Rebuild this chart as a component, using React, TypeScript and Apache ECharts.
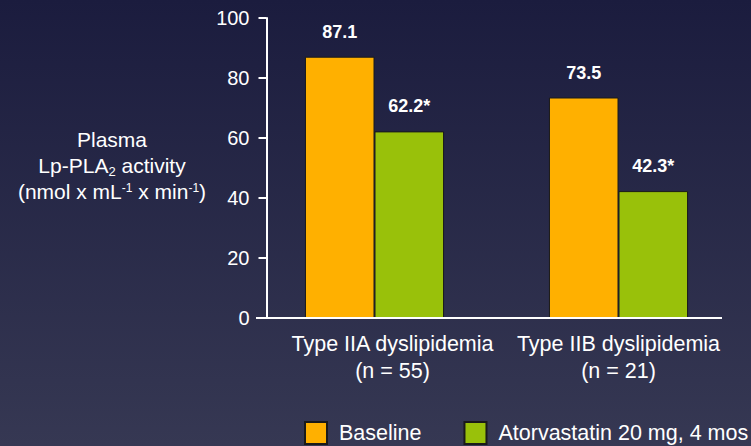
import React, { useEffect, useRef } from "react";
import * as echarts from "echarts";

const categories = ["Type IIA dyslipidemia\n(n = 55)", "Type IIB dyslipidemia\n(n = 21)"];
const baselineValues = [87.1, 73.5];
const atorvaValues = [62.2, 42.3];
const seriesNames = ["Baseline", "Atorvastatin 20 mg, 4 mos"];
const significanceMarks = ["", "*"];
const yTicks = { min: 0, max: 100, interval: 20 };

const FONT = "'Liberation Sans', Arial, Helvetica, sans-serif";

export default function App() {
  const ref = useRef<HTMLDivElement>(null);
  useEffect(() => {
    if (!ref.current) return;
    const chart = echarts.init(ref.current, undefined, { renderer: "svg" });
    const option: any = {
      animation: false,
      backgroundColor: {
        type: "linear",
        x: 0, y: 0, x2: 0, y2: 1,
        colorStops: [
          { offset: 0, color: "#1b1c3e" },
          { offset: 1, color: "#363853" },
        ],
      },
      textStyle: { fontFamily: FONT },
      grid: { left: 252.5, right: 10.5, top: 18, bottom: 128, containLabel: false },
      legend: {
        left: 304,
        top: 421,
        padding: 0,
        itemWidth: 22,
        itemHeight: 22,
        itemGap: 42,
        icon: "rect",
        data: seriesNames,
        textStyle: { color: "#ffffff", fontSize: 21.5, fontFamily: FONT, padding: [0, 0, 0, 7] },
      },
      xAxis: {
        type: "category",
        data: categories,
        axisLine: { show: false },
        axisTick: { show: false },
        axisLabel: {
          interval: 0,
          hideOverlap: false,
          color: "#ffffff",
          fontSize: 21.5,
          fontFamily: FONT,
          lineHeight: 27,
          margin: 12,
          formatter: (v: string, i: number) => {
            const lines = v.split("\n");
            const key = i === 0 ? "a" : "b";
            return lines.map((l) => `{${key}|${l}}`).join("\n");
          },
          rich: {
            a: { color: "#ffffff", fontSize: 21.5, fontFamily: FONT, lineHeight: 27, padding: [0, 0, 0, 36] },
            b: { color: "#ffffff", fontSize: 21.5, fontFamily: FONT, lineHeight: 27 },
          },
        },
      },
      yAxis: {
        type: "value",
        min: yTicks.min,
        max: yTicks.max,
        interval: yTicks.interval,
        offset: -14,
        splitLine: { show: false },
        axisLine: { show: true, lineStyle: { color: "#ffffff", width: 2 } },
        axisTick: { show: true, length: 8, lineStyle: { color: "#ffffff", width: 2 } },
        axisLabel: { color: "#ffffff", fontSize: 20, fontFamily: FONT, margin: 17 },
      },
      series: [
        {
          name: seriesNames[0],
          type: "bar",
          data: baselineValues,
          barGap: "0%",
          barCategoryGap: "43%",
          itemStyle: { color: "#ffb000", borderColor: "#1a1a1a", borderWidth: 1 },
          label: {
            show: true,
            position: "top",
            distance: 16,
            color: "#ffffff",
            fontSize: 18,
            fontWeight: "bold",
            fontFamily: FONT,
            formatter: (p: any) => `${p.value}${significanceMarks[0]}`,
          },
        },
        {
          name: seriesNames[1],
          type: "bar",
          data: atorvaValues,
          barGap: "0%",
          barCategoryGap: "43%",
          itemStyle: { color: "#99c10a", borderColor: "#1a1a1a", borderWidth: 1 },
          label: {
            show: true,
            position: "top",
            distance: 16,
            color: "#ffffff",
            fontSize: 18,
            fontWeight: "bold",
            fontFamily: FONT,
            formatter: (p: any) => `${p.value}${significanceMarks[1]}`,
          },
        },
      ],
      graphic: [
        {
          type: "line",
          shape: { x1: 256, y1: 318, x2: 722, y2: 318 },
          style: { stroke: "#ffffff", lineWidth: 2 },
          z: 10,
        },
        {
          type: "text",
          x: 112,
          y: 165,
          style: {
            text: "Plasma\nLp-PLA{sub|2} activity\n(nmol x mL{sup|-1} x min{sup|-1})",
            fill: "#ffffff",
            fontSize: 21,
            fontFamily: FONT,
            lineHeight: 26,
            align: "center",
            verticalAlign: "middle",
            rich: {
              sub: { fontSize: 13, fill: "#ffffff", fontFamily: FONT, verticalAlign: "bottom", lineHeight: 14 },
              sup: { fontSize: 12, fill: "#ffffff", fontFamily: FONT, verticalAlign: "middle", lineHeight: 14, padding: [0, 0, 7, 0] },
            },
          },
        },
      ],
    };
    chart.setOption(option);
    return () => chart.dispose();
  }, []);
  return (
    <div
      ref={ref}
      style={{ position: "fixed", left: 0, top: 0, width: 751, height: 446 }}
    />
  );
}
